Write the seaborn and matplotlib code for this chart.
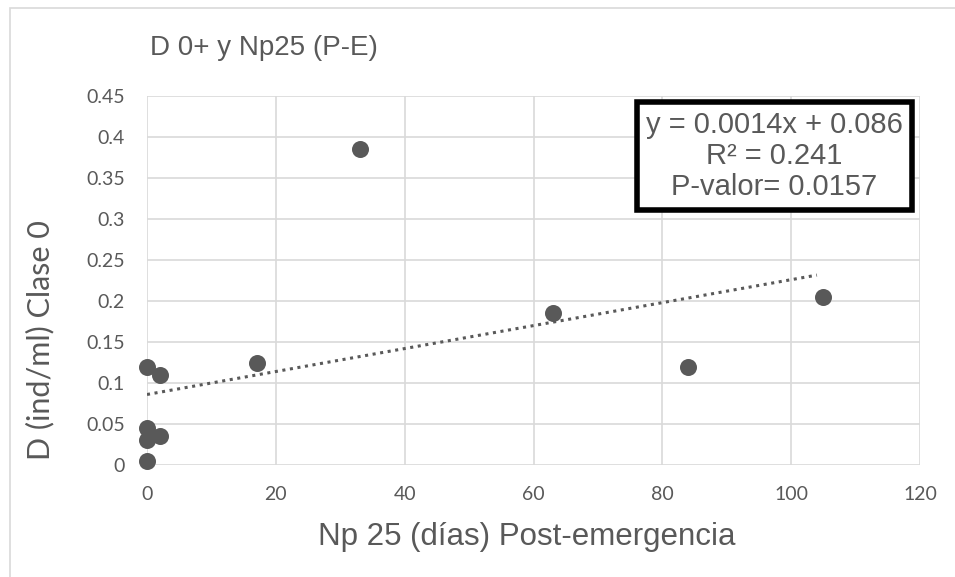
import matplotlib
matplotlib.use('Agg')
import matplotlib.pyplot as plt
import seaborn as sns
import pandas as pd
import numpy as np
from matplotlib.patches import Rectangle

# data
np25_dias = [0, 0, 0, 0, 2, 2, 17, 33, 63, 84, 105]
densidad = [0.005, 0.03, 0.045, 0.12, 0.035, 0.11, 0.125, 0.385, 0.185, 0.12, 0.205]
pendiente = 0.0014
intercepto = 0.086
trend_x = [0, 104]

df = pd.DataFrame({'Np25': np25_dias, 'D': densidad})

sns.set_style('white')
plt.rcParams['font.family'] = ['Lato', 'DejaVu Sans']

fig = plt.figure(figsize=(9.55, 5.77), dpi=100)
ax = fig.add_axes([147/955, 1-465/577, (920-147)/955, (465-96)/577])

gray = '#595959'
tx = np.array(trend_x)
ax.plot(tx, intercepto + pendiente*tx, linestyle=(0, (1, 1.5)), color=gray, lw=2.2, zorder=2)
sns.scatterplot(data=df, x='Np25', y='D', ax=ax, color=gray, s=150, edgecolor=gray, linewidth=0, zorder=3, clip_on=False)

ax.set_xlim(0, 120)
ax.set_ylim(0, 0.45)
ax.set_xticks(range(0, 121, 20))
ax.set_yticks(np.arange(0, 0.451, 0.05))
ax.set_yticklabels(['0', '0.05', '0.1', '0.15', '0.2', '0.25', '0.3', '0.35', '0.4', '0.45'])
ax.grid(True, color='#d9d9d9', lw=1.2)
ax.set_axisbelow(True)
for s in ax.spines.values():
    s.set_visible(False)
ax.tick_params(axis='both', colors=gray, labelsize=14, length=0)
ax.tick_params(axis='y', pad=16)
ax.tick_params(axis='x', pad=15)
ax.set_xlabel('')
ax.set_ylabel('')

fig.text(527/955, 1-537/577, 'Np 25 (días) Post-emergencia', fontsize=22.5, color=gray,
         ha='center', va='center', family='Liberation Sans')
fig.text(40/955, 1-340/577, 'D (ind/ml) Clase 0', fontsize=22, color=gray, rotation=90,
         ha='center', va='center')
fig.text(150/955, 1-48/577, 'D 0+ y Np25 (P-E)', fontsize=20, color=gray, ha='left', va='center',
         family='Liberation Sans')

ax.text(97.4, 0.377, 'y = 0.0014x + 0.086\nR² = 0.241\nP-valor= 0.0157', ha='center', va='center',
        multialignment='center', fontsize=21, color=gray, family='Liberation Sans', linespacing=1.15,
        bbox=dict(boxstyle='square,pad=0.3', facecolor='white', edgecolor='black', linewidth=4), zorder=5)

fig.patches.append(Rectangle((10/955, -0.1), 1.2, 1.1 - 8/577, transform=fig.transFigure,
                             fill=False, edgecolor='#d9d9d9', lw=1.2))

fig.savefig('out.png', dpi=100)
